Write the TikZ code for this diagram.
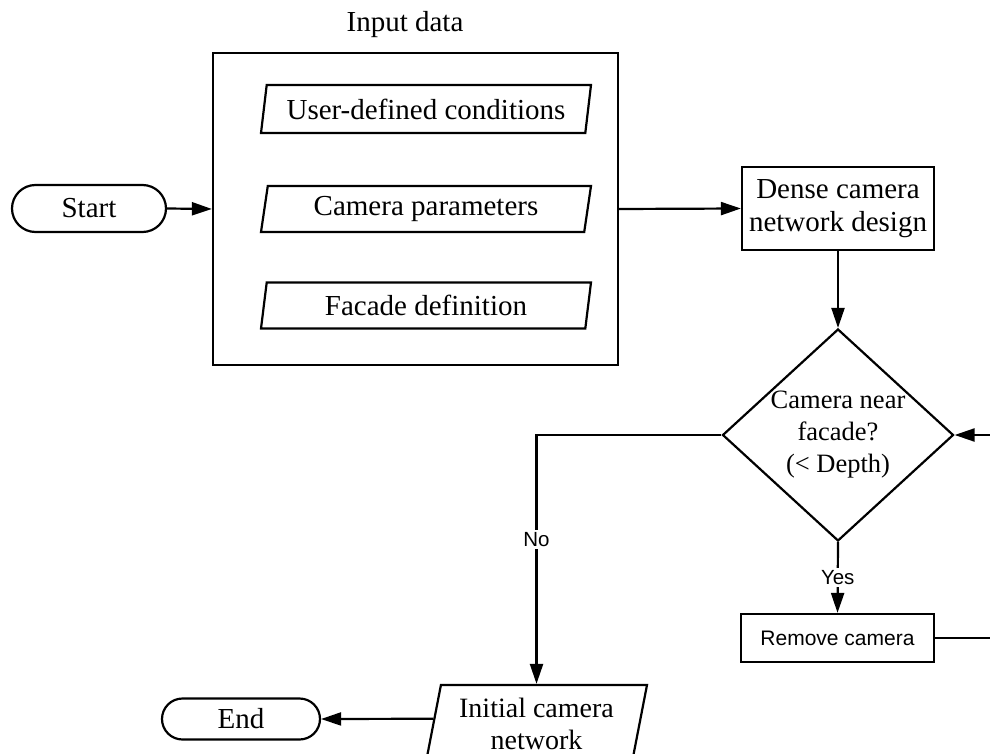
\documentclass[tikz,border=0pt]{standalone}
\usepackage{fontspec}
\setmainfont{Liberation Serif}
\newfontfamily\labelsans{Liberation Sans}
\usetikzlibrary{shapes.geometric,shapes.misc,arrows.meta,calc}
\begin{document}
\begin{tikzpicture}[x=1pt,y=-1pt,line width=2.2pt,
  serif/.style={font=\fontsize{29}{33}\selectfont},
  terminal/.style={draw,rounded rectangle,serif,inner sep=0pt},
  procbox/.style={draw,rectangle,align=center,inner sep=0pt},
  iobox/.style={draw,trapezium,trapezium left angle=77,trapezium right angle=103,
    trapezium stretches body,serif,inner xsep=4pt,inner ysep=2pt,align=center},
  decision/.style={draw,diamond,aspect=1.09,inner sep=0pt,align=center,
    font=\fontsize{26.5}{32}\selectfont},
  arr/.style={-{Triangle[length=20pt,width=13pt]}},
  lbl/.style={font=\labelsans\fontsize{20.5}{24}\selectfont,fill=white,inner sep=2pt}
]
\useasboundingbox (0,0) rectangle (990,754);
\clip (0,0) rectangle (990,754);

% nodes
\node[serif,anchor=base] (inputlabel) at (405,32) {Input data};
\node[draw,rectangle,minimum width=405pt,minimum height=312pt,inner sep=0pt] (input) at (415.5,209) {};
\node[iobox,minimum width=330pt,minimum height=48pt] (user) at (426,109) {User-defined conditions};
\node[iobox,minimum width=330pt,minimum height=46pt] (cam) at (426,209) {Camera parameters};
\node[iobox,minimum width=330pt,minimum height=46pt] (facade) at (426,305.5) {Facade definition};

\node[terminal,minimum width=154pt,minimum height=47pt] (start) at (89,208.5) {Start};
\node[procbox,serif,minimum width=192pt,minimum height=83pt] (dense) at (838,208.5) {Dense camera\\network design};
\node[decision,minimum width=231pt,minimum height=212pt] (dec) at (838,435) {Camera near\\facade?\\(< Depth)};
\node[procbox,font=\labelsans\fontsize{21}{25}\selectfont,minimum width=193pt,minimum height=48pt] (remove) at (837.5,638) {Remove camera};
\node[iobox,trapezium left angle=75,trapezium right angle=105,font=\fontsize{28}{32}\selectfont,
  minimum width=221pt,minimum height=77pt] (init) at (536.5,723.5) {Initial camera\\network};
\node[terminal,minimum width=158pt,minimum height=41pt] (end) at (241,719) {End};

\coordinate (loopin) at (990,435);
\coordinate (loopout) at (990,638);
\coordinate (initleft) at ($(init.top left corner)!0.44!(init.bottom left corner)$);

% connectors
\draw[arr] (start.east) -- (input.west);
\draw[arr] (input.east) -- (dense.west);
\draw[arr] (dense.south) -- (dec.north);
\draw[arr] (loopin) -- (dec.east);
\draw[arr] (dec.south) -- node[lbl,pos=0.5] {Yes} (remove.north);
\draw (remove.east) -- (loopout);
\draw[arr] (dec.west) -| node[lbl,pos=0.71] {No} (init.north);
\draw[arr] (initleft) -- (end.east);
\end{tikzpicture}
\end{document}
